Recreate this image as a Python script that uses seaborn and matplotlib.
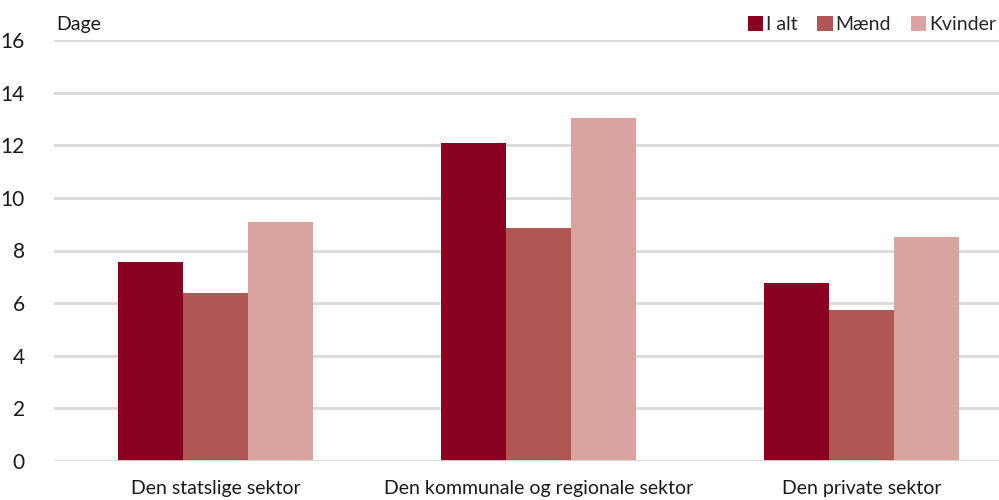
import pandas as pd
import matplotlib.pyplot as plt
import seaborn as sns

sektorer = ['Den statslige sektor', 'Den kommunale og regionale sektor', 'Den private sektor']
grupper = ['I alt', 'Mænd', 'Kvinder']
i_alt = [7.55, 12.1, 6.75]
maend = [6.37, 8.85, 5.72]
kvinder = [9.07, 13.03, 8.5]
farver = ['#8a0021', '#b05654', '#d9a3a0']

df = pd.DataFrame({
    'Sektor': sektorer * 3,
    'Gruppe': [g for g in grupper for _ in sektorer],
    'Dage': i_alt + maend + kvinder,
})

sns.set_style('white')
plt.rcParams['font.family'] = ['Lato', 'DejaVu Sans']

fig = plt.figure(figsize=(9.99, 5.0), dpi=100)
ax = fig.add_axes([0.054, 0.078, 0.946, 0.842])

sns.barplot(data=df, x='Sektor', y='Dage', hue='Gruppe', palette=farver,
            width=0.605, saturation=1, ax=ax, zorder=3, edgecolor='none')

ax.set_ylim(0, 16)
ax.set_xlim(-0.5, 2.426)
ax.set_yticks(range(0, 17, 2))
ax.yaxis.grid(True, color='#d9d9d9', linewidth=2, zorder=0)
for s in ax.spines.values():
    s.set_visible(False)
ax.axhline(0, color='#d9d9d9', linewidth=2, zorder=4)
ax.tick_params(axis='both', length=0, labelsize=14, colors='#1a1a1a')
ax.tick_params(axis='y', pad=21, labelsize=15)
ax.tick_params(axis='x', pad=14)
ax.set_xlabel('')
ax.set_ylabel('')
ax.text(0.002, 1.036, 'Dage', transform=ax.transAxes, fontsize=14, color='#1a1a1a', va='center')

ax.legend(loc='center right', bbox_to_anchor=(0.997, 1.036), ncol=3, frameon=False,
          fontsize=14, handlelength=0.8, handleheight=0.8, handletextpad=0.15,
          columnspacing=1.0, borderaxespad=0, borderpad=0)

fig.savefig('out.png', dpi=100)
